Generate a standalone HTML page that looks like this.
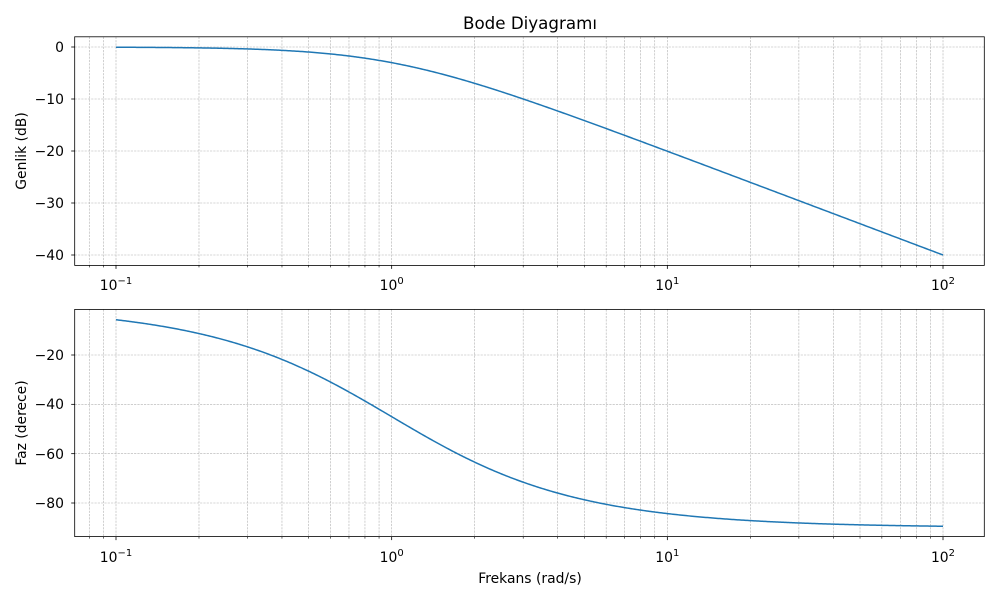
<!DOCTYPE html>
<html><head><meta charset="utf-8"><style>
html,body{margin:0;padding:0;background:#fff;}
svg{display:block;font-family:"DejaVu Sans","Liberation Sans",sans-serif;}
</style></head><body>
<svg id="s" width="1000" height="600" viewBox="0 0 1000 600" xmlns="http://www.w3.org/2000/svg">
<rect width="1000" height="600" fill="#fff"/>
<g id="grid" stroke="#b0b0b0" stroke-width="0.6" stroke-dasharray="2.2,1.1" fill="none"></g>
<g id="ticks" stroke="#000" stroke-width="0.8"></g>
<path id="c1" fill="none" stroke="#1f77b4" stroke-width="1.5"/>
<path id="c2" fill="none" stroke="#1f77b4" stroke-width="1.5"/>
<rect x="74.7" y="36.8" width="909.6" height="228.6" fill="none" stroke="#000" stroke-width="0.8"/>
<rect x="74.7" y="309.4" width="909.6" height="227.2" fill="none" stroke="#000" stroke-width="0.8"/>
<text x="530" y="29" font-size="16.7" text-anchor="middle">Bode Diyagramı</text>
<g font-size="13.9" text-anchor="end">
<text x="64" y="52">0</text>
<text x="64" y="104">−10</text>
<text x="64" y="156">−20</text>
<text x="64" y="208">−30</text>
<text x="64" y="260">−40</text>
<text x="64" y="360">−20</text>
<text x="64" y="409">−40</text>
<text x="64" y="459">−60</text>
<text x="64" y="508">−80</text>
</g>
<g font-size="13.9" text-anchor="middle">
<text x="116" y="290">10<tspan font-size="10" dy="-6">−1</tspan></text>
<text x="391.7" y="290">10<tspan font-size="10" dy="-6">0</tspan></text>
<text x="667.3" y="290">10<tspan font-size="10" dy="-6">1</tspan></text>
<text x="943" y="290">10<tspan font-size="10" dy="-6">2</tspan></text>
<text x="116" y="562">10<tspan font-size="10" dy="-6">−1</tspan></text>
<text x="391.7" y="562">10<tspan font-size="10" dy="-6">0</tspan></text>
<text x="667.3" y="562">10<tspan font-size="10" dy="-6">1</tspan></text>
<text x="943" y="562">10<tspan font-size="10" dy="-6">2</tspan></text>
<text x="530" y="583">Frekans (rad/s)</text>
<text transform="translate(26,151) rotate(-90)">Genlik (dB)</text>
<text transform="translate(26,423) rotate(-90)">Faz (derece)</text>
</g>
</svg>
<script>
var L=74.7,R=984.3,T1=36.8,B1=265.4,T2=309.4,B2=536.6;
function X(f){return 116+(Math.log10(f)+1)*275.67;}
function Y1(v){return 47-v*5.2;}
function Y2(v){return 355-(v+20)*2.4667;}
var g='',t='';
for(var e=-2;e<=2;e++)for(var m=1;m<10;m++){var f=m*Math.pow(10,e);var x=X(f);if(x<L||x>R)continue;
 g+='<line x1="'+x+'" y1="'+T1+'" x2="'+x+'" y2="'+B1+'"/><line x1="'+x+'" y1="'+T2+'" x2="'+x+'" y2="'+B2+'"/>';
 var len=m==1?3.5:2;
 t+='<line x1="'+x+'" y1="'+B1+'" x2="'+x+'" y2="'+(B1+len)+'" stroke-width="'+(m==1?0.8:0.6)+'"/><line x1="'+x+'" y1="'+B2+'" x2="'+x+'" y2="'+(B2+len)+'" stroke-width="'+(m==1?0.8:0.6)+'"/>';}
[0,-10,-20,-30,-40].forEach(function(v){var y=Y1(v);g+='<line x1="'+L+'" y1="'+y+'" x2="'+R+'" y2="'+y+'"/>';t+='<line x1="'+(L-3.5)+'" y1="'+y+'" x2="'+L+'" y2="'+y+'"/>';});
[-20,-40,-60,-80].forEach(function(v){var y=Y2(v);g+='<line x1="'+L+'" y1="'+y+'" x2="'+R+'" y2="'+y+'"/>';t+='<line x1="'+(L-3.5)+'" y1="'+y+'" x2="'+L+'" y2="'+y+'"/>';});
document.getElementById('grid').innerHTML=g;document.getElementById('ticks').innerHTML=t;
var d1='',d2='';
for(var i=0;i<=600;i++){var lf=-1+3*i/600,f=Math.pow(10,lf);var mag=-10*Math.log10(1+f*f),ph=-Math.atan(f)*180/Math.PI;
 d1+=(i?'L':'M')+X(f).toFixed(2)+' '+Y1(mag).toFixed(2);d2+=(i?'L':'M')+X(f).toFixed(2)+' '+Y2(ph).toFixed(2);}
document.getElementById('c1').setAttribute('d',d1);document.getElementById('c2').setAttribute('d',d2);
</script>
</body></html>
